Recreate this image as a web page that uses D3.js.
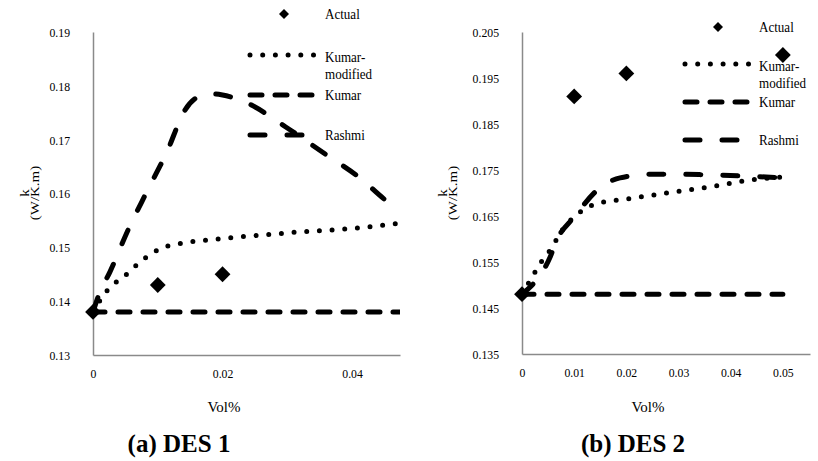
<!DOCTYPE html>
<html lang="en">
  <head>
    <meta charset="UTF-8" />
    <title>Thermal conductivity vs Vol%</title>
    <script src="https://d3js.org/d3.v7.min.js"></script>
    <style>
      body {
        margin: 0;
        background: #fff;
      }
    </style>
  </head>
  <body>
    <div id="chart"></div>
    <script>
      // ---- data ----
      // (a) DES 1
      const xTicks1 = [0, 0.02, 0.04];
      const yTicks1 = [0.13, 0.14, 0.15, 0.16, 0.17, 0.18, 0.19];
      const actual1X = [0, 0.01, 0.02];
      const actual1Y = [0.138, 0.143, 0.145];
      const kumarMod1X = [0, 0.002, 0.0054, 0.007, 0.0085, 0.0103, 0.014, 0.018, 0.0222, 0.0263, 0.0323, 0.04, 0.0474];
      const kumarMod1Y = [0.138, 0.1417, 0.1452, 0.147, 0.1484, 0.1497, 0.1508, 0.1514, 0.1519, 0.1523, 0.1529, 0.1535, 0.1545];
      const kumar1X = [0, 0.05];
      const kumar1Y = [0.138, 0.138];
      const rashmi1X = [0, 0.001, 0.0026, 0.0054, 0.0083, 0.0114, 0.0142, 0.017, 0.0185, 0.02, 0.0238, 0.0297, 0.0354, 0.041, 0.0463, 0.0474];
      const rashmi1Y = [0.138, 0.1415, 0.1454, 0.1532, 0.1603, 0.1677, 0.1755, 0.1783, 0.1785, 0.1783, 0.1768, 0.1724, 0.1677, 0.1631, 0.1579, 0.1573];

      // (b) DES 2
      const xTicks2 = [0, 0.01, 0.02, 0.03, 0.04, 0.05];
      const yTicks2 = [0.135, 0.145, 0.155, 0.165, 0.175, 0.185, 0.195, 0.205];
      const actual2X = [0, 0.01, 0.02, 0.05];
      const actual2Y = [0.148, 0.191, 0.196, 0.2];
      const kumarMod2X = [0, 0.0025, 0.0038, 0.0054, 0.008, 0.01, 0.0136, 0.0213, 0.029, 0.036, 0.0437, 0.05];
      const kumarMod2Y = [0.148, 0.1528, 0.1552, 0.1576, 0.1624, 0.1648, 0.1674, 0.1689, 0.1702, 0.1713, 0.1728, 0.1735];
      const kumar2X = [0, 0.05];
      const kumar2Y = [0.148, 0.148];
      const rashmi2X = [0, 0.0054, 0.0067, 0.01, 0.0149, 0.0188, 0.025, 0.034, 0.0423, 0.05];
      const rashmi2Y = [0.148, 0.1561, 0.1598, 0.1648, 0.1711, 0.1733, 0.1741, 0.174, 0.1737, 0.1733];

      const seriesNames = ["Actual", "Kumar-modified", "Kumar", "Rashmi"];

      // ---- styles ----
      const FONT = "'Liberation Serif', 'Times New Roman', Tinos, serif";
      const squash = 0.87;
      const axisColor = "#8a8a8a";
      const lineStyles = {
        "Kumar-modified": { width: 5, dash: "0,12.7" },
        Kumar: { width: 5, dash: "12,13" },
        Rashmi: { width: 5, dash: "15,22" },
      };

      const svg = d3
        .select("#chart")
        .append("svg")
        .attr("width", 818)
        .attr("height", 461)
        .style("font-family", FONT);

      const panels = [
        {
          id: "a",
          title: "(a) DES 1",
          left: 93, right: 400, top: 32, bottom: 355,
          xMax: 0.0474, yMin: 0.13, yMax: 0.19,
          xTicks: xTicks1, yTicks: yTicks1,
          actual: [actual1X, actual1Y],
          lines: { "Kumar-modified": [kumarMod1X, kumarMod1Y], Kumar: [kumar1X, kumar1Y], Rashmi: [rashmi1X, rashmi1Y] },
          labelX: [24, 34],
          legend: { markX: 284, lineX0: 248, textX: 325, rows: [14, 55, 95, 135] },
          titleX: 179,
          volX: 224,
        },
        {
          id: "b",
          title: "(b) DES 2",
          left: 522, right: 810, top: 32, bottom: 354,
          xMax: 0.0552, yMin: 0.135, yMax: 0.205,
          xTicks: xTicks2, yTicks: yTicks2,
          actual: [actual2X, actual2Y],
          lines: { "Kumar-modified": [kumarMod2X, kumarMod2Y], Kumar: [kumar2X, kumar2Y], Rashmi: [rashmi2X, rashmi2Y] },
          labelX: [442, 452],
          legend: { markX: 718, lineX0: 683, textX: 759, rows: [27, 64, 102, 140] },
          titleX: 633,
          volX: 648,
        },
      ];

      const diamond = (size) => d3.symbol(d3.symbolSquare).size(size)();

      const drawPanel = (p) => {
        const x = d3.scaleLinear().domain([0, p.xMax]).range([p.left, p.right]);
        const y = d3.scaleLinear().domain([p.yMin, p.yMax]).range([p.bottom, p.top]);
        const g = svg.append("g").attr("class", "panel-" + p.id);

        // axes
        const yAxis = g
          .append("g")
          .attr("transform", `translate(${p.left},0)`)
          .call(
            d3.axisLeft(y).tickValues(p.yTicks).tickSize(0).tickSizeOuter(0).tickPadding(0)
              .tickFormat((d) => String(d))
          );
        yAxis.attr("font-family", null);
        yAxis.select(".domain").attr("stroke", axisColor).attr("stroke-width", 1.5);
        yAxis
          .selectAll("text")
          .style("font-family", FONT)
          .attr("font-size", 13.5)
          .attr("x", -23 / squash)
          .attr("transform", `scale(${squash},1)`);

        const xAxis = g
          .append("g")
          .attr("transform", `translate(0,${p.bottom})`)
          .call(
            d3.axisBottom(x).tickValues(p.xTicks).tickSize(0).tickSizeOuter(0).tickPadding(13)
              .tickFormat((d) => String(d))
          );
        xAxis.attr("font-family", null);
        xAxis.select(".domain").attr("stroke", axisColor).attr("stroke-width", 1.5);
        xAxis
          .selectAll("text")
          .style("font-family", FONT)
          .attr("font-size", 13.5)
          .attr("transform", `scale(${squash},1)`);

        // clip so lines stop at the plot's right edge
        g.append("clipPath")
          .attr("id", "clip-" + p.id)
          .append("rect")
          .attr("x", p.left - 10)
          .attr("y", 0)
          .attr("width", p.right - p.left + 10)
          .attr("height", p.bottom + 10);

        const line = d3
          .line()
          .x((d) => x(d[0]))
          .y((d) => y(d[1]))
          .curve(d3.curveMonotoneX);

        const plot = g.append("g").attr("clip-path", `url(#clip-${p.id})`);
        Object.entries(p.lines).forEach(([name, [xs, ys]]) => {
          const st = lineStyles[name];
          plot
            .append("path")
            .datum(d3.zip(xs, ys))
            .attr("fill", "none")
            .attr("stroke", "#000")
            .attr("stroke-width", st.width)
            .attr("stroke-dasharray", st.dash)
            .attr("stroke-linecap", "round")
            .attr("d", line);
        });

        const [ax, ay] = p.actual;
        g.selectAll("path.actual")
          .data(d3.zip(ax, ay))
          .join("path")
          .attr("class", "actual")
          .attr("d", diamond(125))
          .attr("fill", "#000")
          .attr("transform", (d) => `translate(${x(d[0])},${y(d[1])}) rotate(45)`);

        // axis titles
        const yl = g.append("g").attr("font-size", 15).attr("text-anchor", "middle");
        yl.append("text")
          .attr("transform", `translate(${p.labelX[0]},193) rotate(-90) scale(1,${squash})`)
          .attr("dy", "0.35em")
          .text("k");
        yl.append("text")
          .attr("transform", `translate(${p.labelX[1]},193) rotate(-90) scale(1,${squash})`)
          .attr("dy", "0.35em")
          .text("(W/K.m)");

        g.append("text")
          .attr("x", p.volX)
          .attr("y", 407)
          .attr("dy", "0.35em")
          .attr("text-anchor", "middle")
          .attr("font-size", 15)
          .text("Vol%");

        g.append("text")
          .attr("x", p.titleX)
          .attr("y", 443)
          .attr("dy", "0.35em")
          .attr("text-anchor", "middle")
          .attr("font-size", 25)
          .attr("font-weight", "bold")
          .text(p.title);

        // legend
        const lg = p.legend;
        const leg = g.append("g");
        leg.append("path")
          .attr("d", diamond(50))
          .attr("fill", "#000")
          .attr("transform", `translate(${lg.markX},${lg.rows[0]}) rotate(45)`);
        const lineEnds = { "Kumar-modified": 68, Kumar: 72, Rashmi: 57 };
        seriesNames.slice(1).forEach((name, i) => {
          const st = lineStyles[name];
          const ly = lg.rows[i + 1];
          leg.append("line")
            .attr("x1", lg.lineX0 + 2)
            .attr("x2", lg.lineX0 + lineEnds[name] - 2)
            .attr("y1", ly)
            .attr("y2", ly)
            .attr("stroke", "#000")
            .attr("stroke-width", st.width)
            .attr("stroke-dasharray", st.dash)
            .attr("stroke-linecap", "round");
        });
        const legText = (str, ty) =>
          leg.append("text")
            .attr("transform", `translate(${lg.textX},${ty}) scale(${squash},1)`)
            .attr("dy", "0.35em")
            .attr("font-size", 15)
            .text(str);
        legText("Actual", lg.rows[0]);
        legText("Kumar-", lg.rows[1] + 2);
        legText("modified", lg.rows[1] + 19);
        legText("Kumar", lg.rows[2]);
        legText("Rashmi", lg.rows[3]);
      };

      panels.forEach(drawPanel);
    </script>
  </body>
</html>
